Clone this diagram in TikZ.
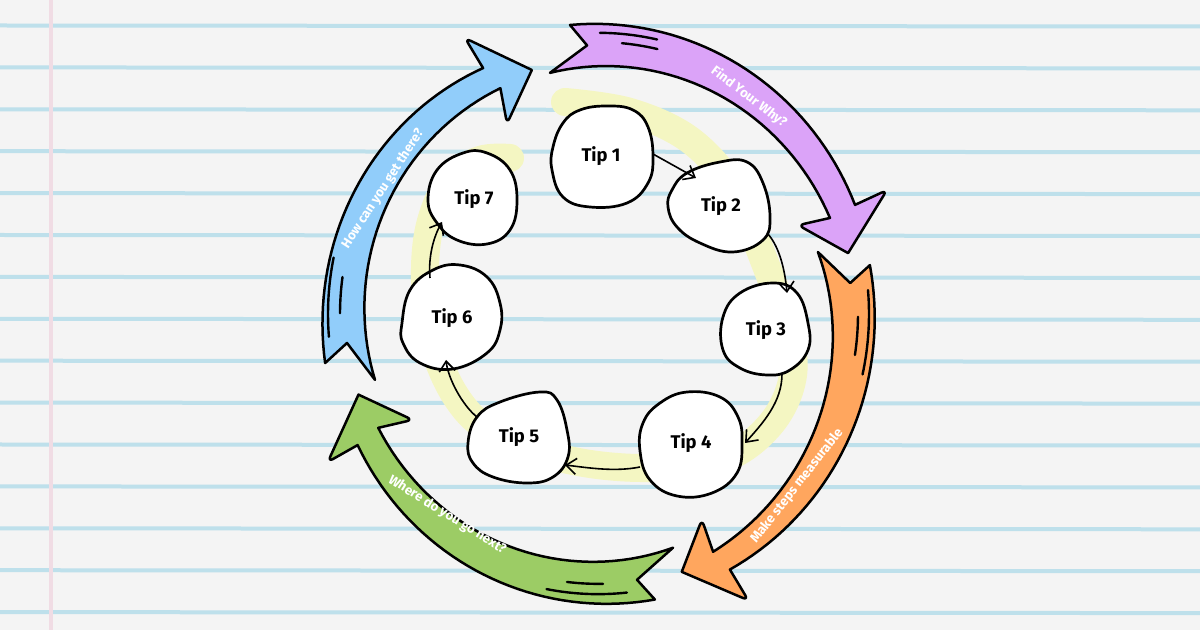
\documentclass[tikz,border=0pt]{standalone}
\usepackage{fontspec}
\setmainfont{Fira Sans}
\usetikzlibrary{arrows.meta,calc}
\definecolor{bg}{HTML}{F4F4F4}
\definecolor{rulec}{HTML}{BEE0EB}
\definecolor{marginc}{HTML}{F0DCE4}
\definecolor{hl}{HTML}{F4F6C2}
\definecolor{cPurple}{HTML}{DBA3F8}
\definecolor{cOrange}{HTML}{FFA65E}
\definecolor{cGreen}{HTML}{9CCC65}
\definecolor{cBlue}{HTML}{91CDFA}
\begin{document}
\begin{tikzpicture}[x=0.5pt,y=-0.5pt,
  band/.style={draw=black, line width=1.25pt, line join=round},
  deco/.style={draw=black, line width=1.2pt, line cap=round},
  blobline/.style={draw=black, fill=white, line width=1.35pt},
  tipnode/.style={circle, minimum size=50pt, inner sep=0pt, font=\bfseries\fontsize{9.2}{10}\selectfont},
  lbl/.style={text=white, font=\bfseries\fontsize{6.6}{8}\selectfont, inner sep=0pt},
  conn/.style={draw=black, line width=0.8pt, -{Straight Barb[length=5pt,width=8pt,line width=0.8pt]}}
]
\useasboundingbox (0,0) rectangle (1200,630);
\fill[bg] (0,0) rectangle (1200,630);
\foreach \k in {0,...,14} {
  \draw[rulec, line width=2pt] (0,{25.5+41.9*\k}) -- (1200,{26.5+41.9*\k});
}
\draw[marginc, line width=2pt] (51,0) -- (51,630);

% yellow highlight loop
\draw[hl, line width=14pt, line cap=round] plot[smooth, tension=0.6] coordinates {
 (565,102) (630,112) (690,140) (735,190) (760,250) (785,320) (793,375) (770,425)
 (720,460) (640,468) (560,458) (490,430) (455,395) (432,340) (425,280) (430,225)
 (450,180) (480,160) (510,158)};

% ring of arrows
\begin{scope}[shift={(598,314)}, yscale=-1.03]
 % purple
 \filldraw[band, fill=cPurple]
  (101.6:239)
  -- plot[domain=101.6:21.9, samples=40, variable=\t] (\t:{239+(250-239)*(\t-101.6)/(21.9-101.6)})
  [rounded corners=3pt] -- (23.3:218) [sharp corners] -- (13.3:257) [rounded corners=3pt] -- (22.6:313) [sharp corners] -- (22.4:278)
  -- plot[domain=22.4:95.7, samples=40, variable=\t] (\t:{278+(282-278)*(\t-22.4)/(95.7-22.4)})
  -- (92.4:261) -- cycle;
 \draw[deco] (89.6:273) arc[start angle=89.6, end angle=77.5, radius=273];
 \draw[deco] (84.8:264) arc[start angle=84.8, end angle=77, radius=264];
 % orange
 \filldraw[band, fill=cOrange]
  (15.3:228)
  -- plot[domain=15.3:-63.5, samples=40, variable=\t] (\t:{228+(258-228)*(\t-15.3)/(-63.5-15.3)})
  [rounded corners=3pt] -- (-62.5:225) [sharp corners] -- (-71.5:264) [rounded corners=3pt] -- (-61.6:316) [sharp corners] -- (-62:281)
  -- plot[domain=-62:9.9, samples=40, variable=\t] (\t:{281+(276-281)*(\t+62)/(9.9+62)})
  -- (6.8:254) -- cycle;
 \draw[deco] (4.9:271) arc[start angle=4.9, end angle=-12.5, radius=271];
 \draw[deco] (-0.6:260) arc[start angle=-0.6, end angle=-8.8, radius=260];
 % green
 \filldraw[band, fill=cGreen]
  (-71.7:239)
  -- plot[domain=-71.7:-153.3, samples=40, variable=\t] (\t:{239+(246-239)*(\t+71.7)/(-153.3+71.7)})
  [rounded corners=3pt] -- (-151:212) [sharp corners] -- (-161.9:252) [rounded corners=3pt] -- (-152:306) [sharp corners] -- (-152.1:272)
  -- plot[domain=-152.1:-78.4, samples=40, variable=\t] (\t:{272+(283-272)*(\t+152.1)/(-78.4+152.1)})
  -- (-81.4:261) -- cycle;
 \draw[deco] (-83.9:272) arc[start angle=-83.9, end angle=-100.9, radius=272];
 \draw[deco] (-88.9:262) arc[start angle=-88.9, end angle=-96.8, radius=262];
 % blue
 \filldraw[band, fill=cBlue]
  (-164:232)
  -- plot[domain=-164:-246, samples=40, variable=\t] (\t:{232+(240-232)*(\t+164)/(-246+164)})
  [rounded corners=3pt] -- (-243.8:206) [sharp corners] -- (-254.4:246) [rounded corners=3pt] -- (-243.6:299) [sharp corners] -- (-244.3:265)
  -- plot[domain=-244.3:-170.1, samples=40, variable=\t] (\t:{265+(277-265)*(\t+244.3)/(-170.1+244.3)})
  -- (-173.6:252.6) -- cycle;
 \draw[deco] (184.7:270) arc[start angle=184.7, end angle=168.3, radius=270];
 \draw[deco] (179.8:258) arc[start angle=179.8, end angle=172, radius=258];
\end{scope}

% arrow labels
\node[lbl, rotate=-37] (lwhy) at (749,97) {Find Your Why?};
\node[lbl, rotate=52] (lmeas) at (797,486) {Make steps measurable};
\node[lbl, rotate=-32] (lnext) at (447,515) {Where do you go next?};
\node[lbl, rotate=57] (lthere) at (383,189) {How can you get there?};

% blobs
\begin{scope}[shift={(602,156)}]
 \draw[blobline] plot[smooth cycle, tension=0.7] coordinates {(-22,-46) (5,-50) (31,-46) (46,-29) (51,1) (46,27) (25,47) (-12,51) (-39,41) (-50,14) (-49,-9) (-39,-33)};
\end{scope}
\begin{scope}[shift={(720,207)}]
 \draw[blobline] plot[smooth cycle, tension=0.7] coordinates {(-48,-17) (-33,-34) (0,-45) (27,-45) (43,-24) (50,10) (43,33) (13,45) (-20,36) (-43,20) (-52,0)};
\end{scope}
\begin{scope}[shift={(765,329)}]
 \draw[blobline] plot[smooth cycle, tension=0.7] coordinates {(-42,-12) (-25,-36) (8,-46) (32,-36) (43,-6) (43,21) (25,41) (2,46) (-25,39) (-42,21)};
\end{scope}
\begin{scope}[shift={(692,443)}]
 \draw[blobline] plot[smooth cycle, tension=0.7] coordinates {(-49,-20) (-32,-40) (-5,-51) (28,-46) (46,-26) (50,0) (45,30) (20,50) (-15,53) (-42,37) (-52,8)};
\end{scope}
\begin{scope}[shift={(519,437)}]
 \draw[blobline] plot[smooth cycle, tension=0.7] coordinates {(-51,6) (-42,-20) (-19,-35) (21,-45) (38,-37) (48,-7) (49,20) (34,40) (8,46) (-26,40) (-46,26)};
\end{scope}
\begin{scope}[shift={(452,318)}]
 \draw[blobline] plot[smooth cycle, tension=0.7] coordinates {(-50,5) (-42,-28) (-19,-48) (8,-53) (35,-41) (48,-15) (48,12) (35,35) (1,51) (-32,45) (-49,25)};
\end{scope}
\begin{scope}[shift={(474,199)}]
 \draw[blobline] plot[smooth cycle, tension=0.7] coordinates {(-46,1) (-37,-29) (-11,-46) (13,-46) (36,-29) (43,1) (36,31) (13,45) (-17,41) (-37,24)};
\end{scope}

% tip nodes
\node[tipnode] (t1) at (601,156) {Tip 1};
\node[tipnode] (t2) at (721,206) {Tip 2};
\node[tipnode] (t3) at (766,330) {Tip 3};
\node[tipnode] (t4) at (691,443) {Tip 4};
\node[tipnode] (t5) at (519,437) {Tip 5};
\node[tipnode] (t6) at (452,318) {Tip 6};
\node[tipnode] (t7) at (474,199) {Tip 7};

% connectors
\draw[conn] ($(t1)+(52,-2)$) -- ($(t2)+(-25,-28)$);
\draw[conn] ($(t2)+(47,28)$) .. controls +(12,14) and +(-2,-22) .. ($(t3)+(21,-37)$);
\draw[conn] ($(t3)+(16,44)$) .. controls +(0,28) and +(18,-20) .. ($(t4)+(54,0)$);
\draw[conn] ($(t4)+(-51,24)$) .. controls +(-25,5) and +(25,3) .. ($(t5)+(46,28)$);
\draw[conn] ($(t5)+(-42,-20)$) .. controls +(-15,-12) and +(2,18) .. ($(t6)+(-6,42)$);
\draw[conn] ($(t6)+(-22,-40)$) .. controls +(-2,-22) and +(-8,14) .. ($(t7)+(-32,23)$);
\end{tikzpicture}
\end{document}
